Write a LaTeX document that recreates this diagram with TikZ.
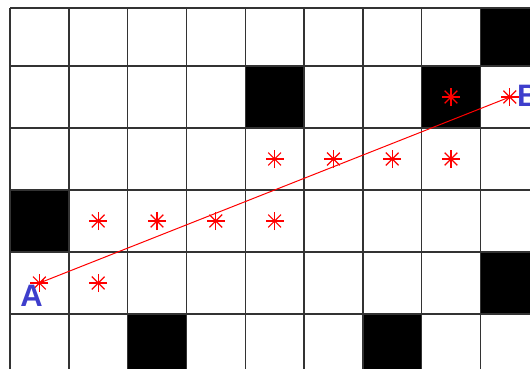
\documentclass[tikz,border=0pt]{standalone}
\usepackage{fontspec}
\setmainfont{Liberation Sans}
\usetikzlibrary{arrows}
\definecolor{labelblue}{RGB}{62,62,204}
\tikzset{
  >=stealth',
  grid line/.style={draw=black!80, line width=1.4pt},
  blocked/.style={fill=black},
  path star/.style={red, line width=1.2pt},
  path link/.style={red, line width=1pt},
  end label/.style={text=labelblue, font=\bfseries\fontsize{31}{31}\selectfont, inner sep=0pt},
}

\begin{document}
\begin{tikzpicture}[x=1pt, y=-1pt]
    \useasboundingbox (0,0) rectangle (530,369);
    \clip (0,0) rectangle (530,369);
    % blocked cells
    \foreach \c/\r in {8/0, 4/1, 7/1, 0/3, 8/4, 2/5, 6/5} {
      \pgfmathsetmacro\top{max(8, 4+62*\r)}
      \fill[blocked] ({10+58.8*\c},\top) rectangle ({10+58.8*(\c+1)},{4+62*(\r+1)});
    }
    % grid
    \foreach \c in {0,...,8}
      \draw[grid line] ({10+58.8*\c},8) -- ({10+58.8*\c},369);
    \draw[grid line] (10,8) -- (530,8);
    \foreach \r in {1,...,5}
      \draw[grid line] (10,{4+62*\r}) -- (530,{4+62*\r});
    % path cells
    \foreach \c/\r in {0/4, 1/4, 1/3, 2/3, 3/3, 4/3, 4/2, 5/2, 6/2, 7/2, 7/1, 8/1} {
      \coordinate (s-\c-\r) at ({10+58.8*(\c+0.5)},{4+62*(\r+0.5)});
      \foreach \a in {0,45,90,135}
        \draw[path star] (s-\c-\r) ++(\a:9) -- ++(\a+180:18);
      \fill[red] (s-\c-\r) circle (1.8);
    }
    \draw[path link, ->] (s-8-1) -- (s-0-4);
    \node[end label] (labA) at (31.5,296) {A};
    \node[end label, anchor=west] (labB) at (517,96) {B};
\end{tikzpicture}
\end{document}
